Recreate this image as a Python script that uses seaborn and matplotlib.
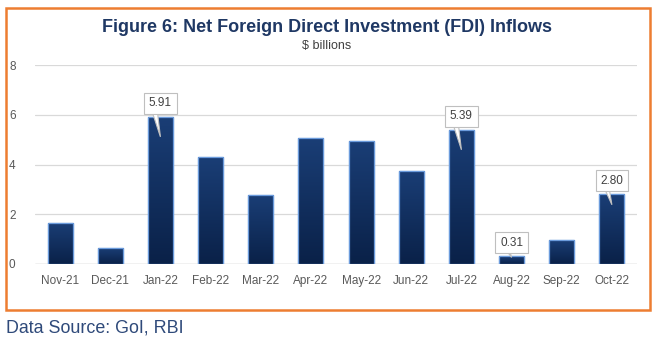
import matplotlib
matplotlib.use("Agg")
import matplotlib.pyplot as plt
import seaborn as sns
import numpy as np
import pandas as pd
from matplotlib.patches import Rectangle, Polygon
from matplotlib.colors import LinearSegmentedColormap

months = ["Nov-21", "Dec-21", "Jan-22", "Feb-22", "Mar-22", "Apr-22",
          "May-22", "Jun-22", "Jul-22", "Aug-22", "Sep-22", "Oct-22"]
fdi = [1.65, 0.64, 5.91, 4.30, 2.77, 5.06, 4.94, 3.75, 5.39, 0.31, 0.96, 2.80]
labelled = ["Jan-22", "Jul-22", "Aug-22", "Oct-22"]
yticks = [0, 2, 4, 6, 8]

sns.set_theme(style="white")
plt.rcParams['font.family'] = ['Liberation Sans', 'DejaVu Sans']

df = pd.DataFrame({"month": months, "fdi": fdi})

fig = plt.figure(figsize=(6.53, 3.43), dpi=100)
ax = fig.add_axes([35/653, 1-264/343, (637-35)/653, (264-65)/343])

sns.barplot(data=df, x="month", y="fdi", ax=ax, width=0.5,
            color="#13346a", edgecolor="#6b9bdc", linewidth=0.9, zorder=3)

# gradient fill clipped to each bar
grad = np.linspace(0, 1, 256).reshape(-1, 1)
cmap = LinearSegmentedColormap.from_list("g", ["#0a2148", "#1a3e76"])
for p in list(ax.patches):
    bb = p.get_bbox()
    im = ax.imshow(grad, extent=[bb.x0, bb.x1, bb.y0, bb.y1], origin="lower",
                   cmap=cmap, aspect="auto", zorder=3.5)
    im.set_clip_path(p)
    edge = Rectangle((bb.x0, bb.y0), bb.width, bb.height, fill=False,
                     ec="#6b9bdc", lw=0.9, zorder=4)
    ax.add_patch(edge)

ax.set_xlim(-0.5, len(months) - 0.5)
ax.set_ylim(0, 8)
ax.set_yticks(yticks)
ax.set_yticklabels([str(t) for t in yticks])
for s in ax.spines.values():
    s.set_visible(False)
ax.grid(axis="y", color="#d9d9d9", lw=0.9, zorder=0)
ax.set_axisbelow(True)
ax.set_xlabel("")
ax.set_ylabel("")
ax.tick_params(axis="x", colors="#595959", labelsize=8.5, length=0, pad=8)
ax.tick_params(axis="y", colors="#595959", labelsize=8.5, length=0, pad=14)
ax.axhline(0, color="#d0d0d0", lw=1, zorder=2)

for i, (m, v) in enumerate(zip(months, fdi)):
    if m in labelled:
        tip = max(v - 0.8, v * 0.85)
        ybox = v + 0.55
        ax.text(i, ybox, f"{v:.2f}", ha="center", va="center", fontsize=8.5,
                color="#404040", zorder=7,
                bbox=dict(boxstyle="square,pad=0.4", fc="white", ec="#bfbfbf", lw=0.8))
        tail = Polygon([(i - 0.22, ybox), (i - 0.08, ybox), (i, tip)], closed=True,
                       fc="white", ec="#bfbfbf", lw=0.8, zorder=6)
        ax.add_patch(tail)

fig.text(327/653, 1-28/343, "Figure 6: Net Foreign Direct Investment (FDI) Inflows",
         ha="center", va="center", fontsize=13, fontweight="bold", color="#1f3864")
fig.text(327/653, 1-46/343, "\\$ billions", ha="center", va="center",
         fontsize=9, color="#404040")
fig.text(6/653, 1-328/343, "Data Source: GoI, RBI", ha="left", va="center",
         fontsize=12.9, color="#2f4a7a")

border = Rectangle((6/653, 1-310/343), (650-6)/653, (310-8)/343,
                   transform=fig.transFigure, fill=False, ec="#ed7d31", lw=1.8)
fig.patches.append(border)

fig.savefig("out.png", dpi=100)
